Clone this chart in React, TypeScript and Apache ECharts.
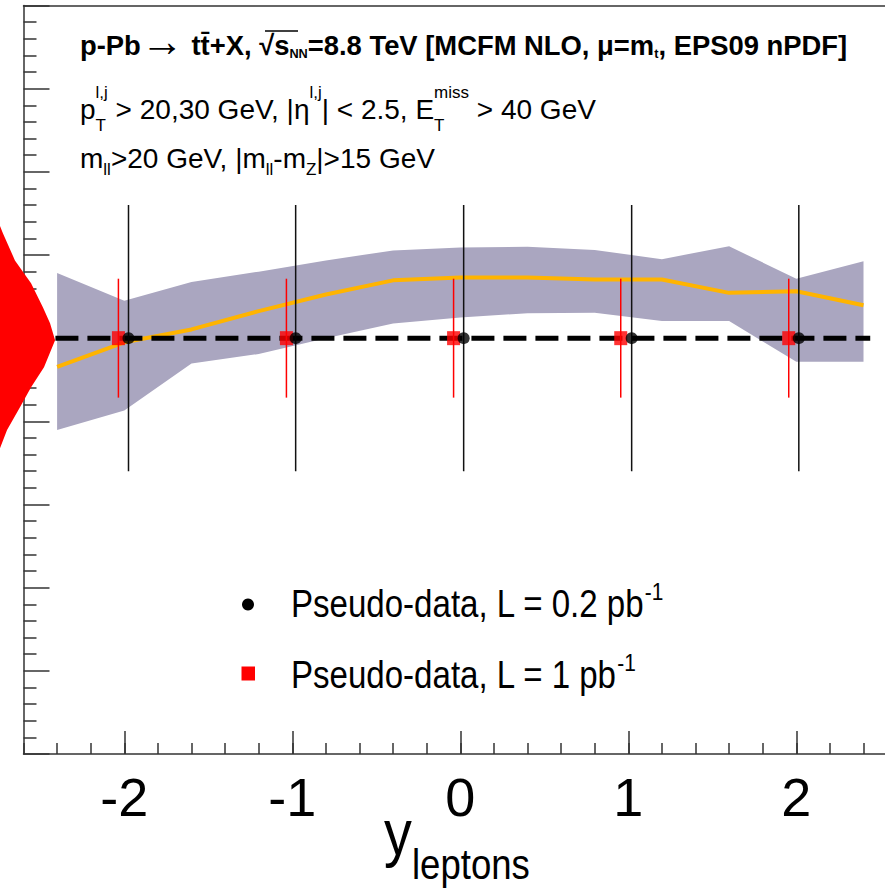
import React, { useEffect, useRef } from 'react';
import * as echarts from 'echarts';

// ---- data ----
const majorXTicks = [-2, -1, 0, 1, 2];

// theory uncertainty band (MCFM NLO + EPS09 nPDF), normalised
const bandX = [-2.4, -2.0, -1.6, -1.2, -0.8, -0.4, 0, 0.4, 0.8, 1.2, 1.6, 2.0, 2.4];
const bandHigh = [1.157, 1.09, 1.135, 1.16, 1.187, 1.211, 1.218, 1.22, 1.212, 1.19, 1.221, 1.143, 1.185];
const bandLow = [0.779, 0.826, 0.939, 0.962, 1.0, 1.035, 1.05, 1.06, 1.061, 1.041, 1.041, 0.943, 0.943];
// central nPDF curve
const centralY = [0.931, 0.99, 1.021, 1.065, 1.105, 1.139, 1.146, 1.146, 1.141, 1.141, 1.109, 1.113, 1.079];

// pseudo-data L = 0.2 pb^-1
const blackX = [-1.975, -0.98, 0.02, 1.02, 2.015];
const blackY = [1, 1, 1, 1, 1];
const blackErr = [0.32, 0.32, 0.32, 0.32, 0.32];
// pseudo-data L = 1 pb^-1
const redX = [-2.035, -1.035, -0.04, 0.955, 1.955];
const redY = [1, 1, 1, 1, 1];
const redErr = [0.143, 0.143, 0.143, 0.143, 0.143];

// reference line at ratio 1
const refLineX = [-2.41, 2.44];
const refLineY = 1;

// red projection sticking out on the left
const projY = [1.27, 1.252, 1.187, 1.132, 1.074, 1.036, 0.995, 0.93, 0.882, 0.834, 0.779, 0.735];
const projX = [-2.74, -2.722, -2.651, -2.555, -2.484, -2.442, -2.412, -2.478, -2.555, -2.621, -2.698, -2.74];
const projBase = -2.8;

const FONT = 'Liberation Sans, Arial, Helvetica, sans-serif';

export default function App() {
  const ref = useRef<HTMLDivElement>(null);
  useEffect(() => {
    const chart = echarts.init(ref.current!, null, { renderer: 'svg' });

    const errorBar = (color: string) => (params: any, api: any) => {
      const x = api.value(0);
      const y = api.value(1);
      const e = api.value(2);
      const lo = api.coord([x, y - e]);
      const hi = api.coord([x, y + e]);
      return {
        type: 'line',
        shape: { x1: lo[0], y1: lo[1], x2: hi[0], y2: hi[1] },
        style: { stroke: color, lineWidth: 1.5 },
      };
    };

    const axisColor = '#333';

    const option: any = {
      animation: false,
      grid: {
        left: 23.5,
        top: 5.5,
        width: 873.6,
        height: 748.5,
        containLabel: false,
        outerBoundsMode: 'none',
        show: false,
      },
      xAxis: [
        {
          type: 'value',
          min: -2.6,
          max: 2.6,
          interval: 0.2,
          position: 'bottom',
          axisLine: { show: true, onZero: false, lineStyle: { color: axisColor, width: 1.5 } },
          axisTick: {
            show: true,
            inside: true,
            length: 23,
            customValues: majorXTicks,
            lineStyle: { color: axisColor, width: 1.5 },
          },
          axisLabel: {
            show: true,
            customValues: majorXTicks,
            fontSize: 54,
            fontFamily: FONT,
            color: '#000',
            margin: 16,
          },
          splitLine: { show: false },
          minorSplitLine: { show: false },
        },
        {
          type: 'value',
          min: -2.6,
          max: 2.6,
          interval: 0.2,
          position: 'bottom',
          offset: 0,
          axisLine: { show: false, onZero: false },
          axisTick: { show: true, inside: true, length: 11, lineStyle: { color: axisColor, width: 1.5 } },
          axisLabel: { show: false },
          splitLine: { show: false },
          minorSplitLine: { show: false },
        },
        {
          type: 'value',
          min: -2.6,
          max: 2.6,
          interval: 0.2,
          position: 'top',
          offset: 0,
          axisLine: { show: true, onZero: false, lineStyle: { color: axisColor, width: 1.5 } },
          axisTick: { show: false },
          axisLabel: { show: false },
          splitLine: { show: false },
          minorSplitLine: { show: false },
        },
      ],
      yAxis: {
        type: 'value',
        position: 'left',
        min: 0,
        max: 1.8,
        interval: 0.2,
        axisLine: { show: true, onZero: false, lineStyle: { color: axisColor, width: 1.5 } },
        axisTick: { show: true, inside: true, length: 26, lineStyle: { color: axisColor, width: 1.5 } },
        minorTick: { show: true, splitNumber: 5, length: 13, lineStyle: { color: axisColor, width: 1.5 } },
        axisLabel: { show: false },
        splitLine: { show: false },
        minorSplitLine: { show: false },
      },
      series: [
        {
          type: 'custom',
          name: 'projection',
          clip: false,
          silent: true,
          data: [[projBase, refLineY]],
          encode: { x: 0, y: 1 },
          renderItem: (params: any, api: any) => {
            const pts: number[][] = [];
            pts.push(api.coord([projBase, projY[0]]));
            for (let i = 0; i < projY.length; i++) pts.push(api.coord([projX[i], projY[i]]));
            pts.push(api.coord([projBase, projY[projY.length - 1]]));
            return { type: 'polygon', shape: { points: pts }, style: { fill: '#ff0000' } };
          },
          z: 1,
        },
        {
          type: 'custom',
          name: 'band',
          silent: true,
          data: [[bandX[0], bandLow[0]]],
          encode: { x: 0, y: 1 },
          renderItem: (params: any, api: any) => {
            const pts: number[][] = [];
            for (let i = 0; i < bandX.length; i++) pts.push(api.coord([bandX[i], bandHigh[i]]));
            for (let i = bandX.length - 1; i >= 0; i--) pts.push(api.coord([bandX[i], bandLow[i]]));
            return { type: 'polygon', shape: { points: pts }, style: { fill: '#aaa6c0' } };
          },
          z: 2,
        },
        {
          type: 'line',
          name: 'central',
          data: bandX.map((x, i) => [x, centralY[i]]),
          symbol: 'none',
          lineStyle: { color: '#ffb400', width: 4 },
          z: 3,
        },
        {
          type: 'line',
          name: 'ref',
          data: refLineX.map((x) => [x, refLineY]),
          symbol: 'none',
          lineStyle: { color: '#000', width: 5, type: [23, 9] },
          z: 4,
        },
        {
          type: 'custom',
          name: 'redErr',
          data: redX.map((x, i) => [x, redY[i], redErr[i]]),
          encode: { x: 0, y: 1 },
          renderItem: errorBar('#ff0000'),
          z: 5,
        },
        {
          type: 'scatter',
          name: 'Pseudo-data, L = 1 pb-1',
          data: redX.map((x, i) => [x, redY[i]]),
          symbol: 'rect',
          symbolSize: [13, 14],
          itemStyle: { color: '#ff0000' },
          z: 6,
        },
        {
          type: 'custom',
          name: 'blackErr',
          data: blackX.map((x, i) => [x, blackY[i], blackErr[i]]),
          encode: { x: 0, y: 1 },
          renderItem: errorBar('#111111'),
          z: 7,
        },
        {
          type: 'scatter',
          name: 'Pseudo-data, L = 0.2 pb-1',
          data: blackX.map((x, i) => [x, blackY[i]]),
          symbol: 'circle',
          symbolSize: 12,
          itemStyle: { color: '#000' },
          z: 8,
        },
      ],
      graphic: [
        {
          type: 'text',
          x: 80,
          y: 45,
          scaleX: 0.978,
          style: {
            text:
              '{b|p-Pb}{ar|\u2192}{b| tt\u0304+X, \u221A}{b|s}{bs|NN}{b|=8.8 TeV [MCFM NLO, \u03BC=m}{bs|t}{b|, EPS09 nPDF]}',
            fontFamily: FONT,
            fill: '#000',
            verticalAlign: 'middle',
            rich: {
              b: { fontSize: 28, fontWeight: 'bold', fontFamily: FONT, lineHeight: 30 },
              ar: { fontSize: 44, fontWeight: 'normal', fontFamily: FONT, lineHeight: 30, padding: [0, 0, 8, 0] },
              bs: { fontSize: 13, fontWeight: 'bold', fontFamily: FONT, lineHeight: 13, verticalAlign: 'bottom' },
            },
          },
        },
        // overline of the square root
        { type: 'line', shape: { x1: 265, y1: 31, x2: 298, y2: 31 }, style: { stroke: '#000', lineWidth: 1.5 } },
        {
          type: 'text',
          x: 80,
          y: 109,
          scaleX: 1.0,
          style: {
            text:
              '{m|p}{sz|T}{su|l,j}{m| > 20,30 GeV, |\u03B7}{su|l,j}{m|| < 2.5, E}{sz|T}{su|miss}{m| > 40 GeV}',
            fontFamily: FONT,
            fill: '#000',
            verticalAlign: 'middle',
            rich: {
              m: { fontSize: 28, fontFamily: FONT, lineHeight: 50 },
              su: { fontSize: 17, fontFamily: FONT, lineHeight: 17, verticalAlign: 'top' },
              sz: { fontSize: 17, fontFamily: FONT, lineHeight: 17, verticalAlign: 'bottom', width: 0 },
            },
          },
        },
        {
          type: 'text',
          x: 80,
          y: 158,
          scaleX: 1.0,
          style: {
            text: '{m|m}{s|ll}{m|>20 GeV, |m}{s|ll}{m|-m}{s|Z}{m||>15 GeV}',
            fontFamily: FONT,
            fill: '#000',
            verticalAlign: 'middle',
            rich: {
              m: { fontSize: 28, fontFamily: FONT, lineHeight: 40 },
              s: { fontSize: 17, fontFamily: FONT, lineHeight: 17, verticalAlign: 'bottom' },
            },
          },
        },
        // legend
        { type: 'circle', shape: { cx: 248, cy: 604.5, r: 6 }, style: { fill: '#000' } },
        { type: 'rect', shape: { x: 241.5, y: 666.5, width: 13.5, height: 14 }, style: { fill: '#ff0000' } },
        {
          type: 'text',
          x: 291,
          y: 604,
          scaleX: 0.87,
          style: {
            text: '{m|Pseudo-data, L = 0.2 pb}{s|-1}',
            fill: '#000',
            verticalAlign: 'middle',
            rich: {
              m: { fontSize: 38, fontFamily: FONT, lineHeight: 48 },
              s: { fontSize: 24, fontFamily: FONT, lineHeight: 24, verticalAlign: 'top' },
            },
          },
        },
        {
          type: 'text',
          x: 291,
          y: 675,
          scaleX: 0.87,
          style: {
            text: '{m|Pseudo-data, L = 1 pb}{s|-1}',
            fill: '#000',
            verticalAlign: 'middle',
            rich: {
              m: { fontSize: 38, fontFamily: FONT, lineHeight: 48 },
              s: { fontSize: 24, fontFamily: FONT, lineHeight: 24, verticalAlign: 'top' },
            },
          },
        },
        // x axis title
        {
          type: 'text',
          x: 384,
          y: 833,
          scaleX: 0.87,
          style: { text: 'y', fontSize: 64, fontFamily: FONT, fill: '#000', verticalAlign: 'middle' },
        },
        {
          type: 'text',
          x: 412,
          y: 864,
          scaleX: 0.87,
          style: { text: 'leptons', fontSize: 42, fontFamily: FONT, fill: '#000', verticalAlign: 'middle' },
        },
      ],
    };

    chart.setOption(option);
    return () => chart.dispose();
  }, []);

  return (
    <div
      ref={ref}
      style={{ position: 'fixed', left: 0, top: 0, width: 885, height: 893, background: '#fff' }}
    />
  );
}
